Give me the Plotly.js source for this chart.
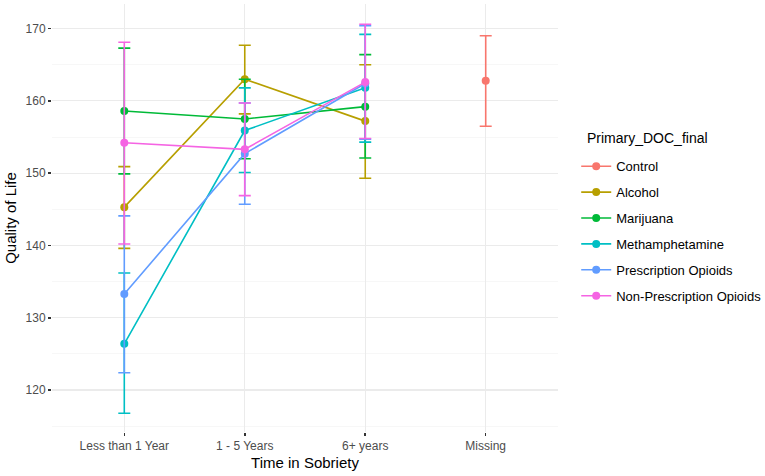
<!DOCTYPE html>
<html>
<head>
<meta charset="utf-8">
<script src="https://cdn.plot.ly/plotly-3.0.1.min.js"></script>
<style>
  body { margin: 0; background: white; }
  #chart { width: 765px; height: 476px; }
</style>
</head>
<body>
<div id="chart"></div>
<script>
// categories on x
var times = ['Less than 1 Year', '1 - 5 Years', '6+ years', 'Missing'];
var groups = ['Control', 'Alcohol', 'Marijuana', 'Methamphetamine', 'Prescription Opioids', 'Non-Prescription Opioids'];
var colors = ['#F8766D', '#B79F00', '#00BA38', '#00BFC4', '#619CFF', '#F564E3'];

// mean quality of life, with lower and upper bounds of error bars
var controlX = ['Missing'];
var controlMean = [162.8];
var controlLow = [156.5];
var controlHigh = [169.0];

var sobrX = ['Less than 1 Year', '1 - 5 Years', '6+ years'];

var alcoholMean = [145.3, 163.0, 157.2];
var alcoholLow = [139.6, 158.2, 149.3];
var alcoholHigh = [150.9, 167.7, 165.0];

var marijuanaMean = [158.6, 157.5, 159.2];
var marijuanaLow = [149.9, 152.0, 152.1];
var marijuanaHigh = [167.3, 163.0, 166.4];

var methMean = [126.4, 155.9, 161.8];
var methLow = [116.8, 150.1, 154.3];
var methHigh = [136.2, 161.8, 169.2];

var rxMean = [133.3, 152.7, 162.4];
var rxLow = [122.4, 145.7, 154.7];
var rxHigh = [144.1, 159.7, 170.4];

var nonRxMean = [154.2, 153.3, 162.6];
var nonRxLow = [140.2, 146.9, 154.8];
var nonRxHigh = [168.1, 159.7, 170.6];

function makeTrace(name, color, x, mean, low, high) {
    return {
        x: x,
        y: mean,
        name: name,
        legendgroup: name,
        type: 'scatter',
        mode: 'lines+markers',
        line: { color: color, width: 1.6 },
        marker: { color: color, size: 8 },
        error_y: {
            type: 'data',
            symmetric: false,
            array: high.map(function(h, i) { return h - mean[i]; }),
            arrayminus: low.map(function(l, i) { return mean[i] - l; }),
            color: color,
            thickness: 1.6,
            width: 6
        }
    };
}

var data = [
    makeTrace(groups[0], colors[0], controlX, controlMean, controlLow, controlHigh),
    makeTrace(groups[1], colors[1], sobrX, alcoholMean, alcoholLow, alcoholHigh),
    makeTrace(groups[2], colors[2], sobrX, marijuanaMean, marijuanaLow, marijuanaHigh),
    makeTrace(groups[3], colors[3], sobrX, methMean, methLow, methHigh),
    makeTrace(groups[4], colors[4], sobrX, rxMean, rxLow, rxHigh),
    makeTrace(groups[5], colors[5], sobrX, nonRxMean, nonRxLow, nonRxHigh)
];

var layout = {
    width: 765,
    height: 476,
    paper_bgcolor: 'white',
    plot_bgcolor: 'white',
    font: { family: 'Liberation Sans, Arial, sans-serif', color: '#000' },
    margin: { l: 52, r: 207, t: 4, b: 44, autoexpand: false },
    xaxis: {
        type: 'category',
        categoryorder: 'array',
        categoryarray: times,
        range: [-0.6, 3.6],
        showgrid: true,
        gridcolor: '#ebebeb',
        gridwidth: 1.2,
        zeroline: false,
        showline: false,
        ticks: 'outside',
        ticklen: 3,
        tickwidth: 1.5,
        tickcolor: '#333',
        tickfont: { size: 12, color: '#4d4d4d' },
        title: { text: 'Time in Sobriety', font: { size: 15 }, standoff: 5 }
    },
    yaxis: {
        range: [114.2, 173.4],
        tickvals: [120, 130, 140, 150, 160, 170],
        showgrid: true,
        gridcolor: '#ebebeb',
        gridwidth: 1.2,
        zeroline: false,
        showline: false,
        ticks: 'outside',
        ticklen: 3,
        tickwidth: 1.5,
        tickcolor: '#333',
        tickfont: { size: 12, color: '#4d4d4d' },
        minor: { tickvals: [115, 125, 135, 145, 155, 165], showgrid: true, gridcolor: '#f5f5f5', gridwidth: 0.8, ticks: '' },
        title: { text: 'Quality of Life', font: { size: 15 }, standoff: 5 }
    },
    showlegend: true,
    legend: {
        x: 1.036,
        xanchor: 'left',
        y: 0.656,
        yanchor: 'top',
        traceorder: 'grouped',
        tracegroupgap: 6,
        itemwidth: 30,
        font: { size: 13, color: '#000' }
    },
    annotations: [
        {
            text: 'Primary_DOC_final',
            showarrow: false,
            xref: 'paper',
            yref: 'paper',
            x: 1.0524,
            xanchor: 'left',
            y: 0.688,
            yanchor: 'middle',
            font: { size: 14, color: '#000' }
        }
    ],
    hovermode: false
};

Plotly.newPlot('chart', data, layout, { displayModeBar: false, staticPlot: true });
</script>
</body>
</html>
